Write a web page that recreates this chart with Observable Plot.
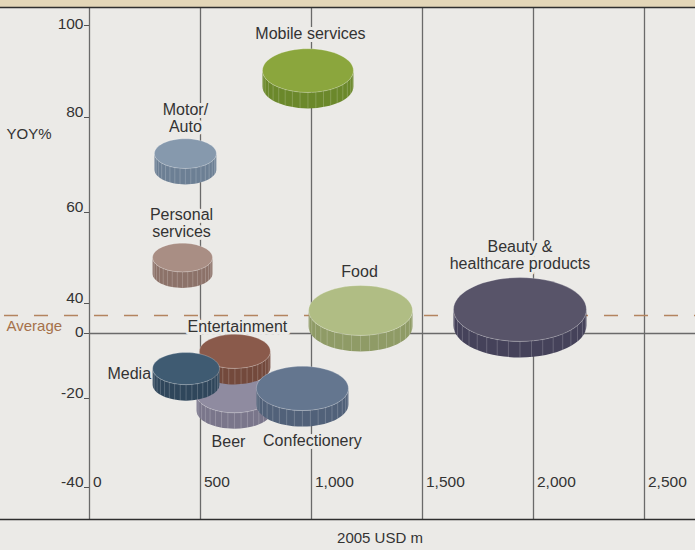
<!DOCTYPE html>
<html>
<head>
<meta charset="utf-8">
<script src="https://cdn.jsdelivr.net/npm/d3@7"></script>
<script src="https://cdn.jsdelivr.net/npm/@observablehq/plot@0.6"></script>
<style>
html, body { margin: 0; padding: 0; background: #ebeae7; }
svg text { paint-order: stroke; }
</style>
</head>
<body>
<div id="chart"></div>
<script>
// ---------- data (drawing order: back to front) ----------
const categories = ["Beer", "Entertainment", "Media", "Confectionery", "Motor/Auto",
  "Personal services", "Mobile services", "Food", "Beauty & healthcare products"];
const labelText = ["Beer", "Entertainment", "Media", "Confectionery", "Motor/\nAuto",
  "Personal\nservices", "Mobile services", "Food", "Beauty &\nhealthcare products"];
const sales2005 = [653, 655, 435, 959, 432, 419, 984, 1221, 1939];     // 2005 USD m
const growthYoY = [-18.8, -5.5, -10.8, -16.9, 72.4, 50.1, 90.2, 30.7, 32.0]; // YOY %
const bubbleSize = [14.4, 12.6, 11.2, 21.2, 9.6, 9.0, 20.7, 27.0, 44.2];
const averageYoY = [24];
const xTicks = [0, 500, 1000, 1500, 2000, 2500];
const xTickLabels = ["0", "500", "1,000", "1,500", "2,000", "2,500"];
const yTicks = [100, 80, 60, 40, 0, -20, -40];

// ---------- styles ----------
const palette = {
  "Beer": ["#8f8ba0", "#7a768b"],
  "Entertainment": ["#8a5a4b", "#73493c"],
  "Media": ["#3f5b72", "#2f465b"],
  "Confectionery": ["#64768f", "#516179"],
  "Motor/Auto": ["#8699ad", "#6c7f94"],
  "Personal services": ["#a98e84", "#8c7269"],
  "Mobile services": ["#8ba63d", "#6b882b"],
  "Food": ["#b0bd84", "#8f9b66"],
  "Beauty & healthcare products": ["#585469", "#45425a"]
};
const labelLayout = {
  "Beer": {dx: -6, dy: 47, anchor: "middle"},
  "Entertainment": {dx: 2.5, dy: -25, anchor: "middle"},
  "Media": {dx: -35, dy: 5, anchor: "end"},
  "Confectionery": {dx: 10, dy: 52, anchor: "middle"},
  "Motor/Auto": {dx: 0, dy: -35.5, anchor: "middle"},
  "Personal services": {dx: -1, dy: -34.5, anchor: "middle"},
  "Mobile services": {dx: 2.5, dy: -37, anchor: "middle"},
  "Food": {dx: -1, dy: -39, anchor: "middle"},
  "Beauty & healthcare products": {dx: 0, dy: -54.5, anchor: "middle"}
};
const BG = "#ebeae7";
const FONT = "'Liberation Sans', Arial, Helvetica, sans-serif";
const TEXT = "#333333";

// The original's y axis is broken (uneven spacing between ticks):
// map YOY% onto an even "axis distance" before Plot's linear scale.
const yBreak = d3.scaleLinear()
  .domain([-40, -20, 0, 40, 60, 80, 100])
  .range([0, 89, 154, 184, 275, 370, 462]);

// ---------- cylinder symbols ----------
const K = 0.5523, RATIO = 0.48, DEPTH = 16;
function ellipse(ctx, cx, cy, rx, ry) {
  ctx.moveTo(cx + rx, cy);
  ctx.bezierCurveTo(cx + rx, cy + K * ry, cx + K * rx, cy + ry, cx, cy + ry);
  ctx.bezierCurveTo(cx - K * rx, cy + ry, cx - rx, cy + K * ry, cx - rx, cy);
  ctx.bezierCurveTo(cx - rx, cy - K * ry, cx - K * rx, cy - ry, cx, cy - ry);
  ctx.bezierCurveTo(cx + K * rx, cy - ry, cx + rx, cy - K * ry, cx + rx, cy);
  ctx.closePath();
}
const topFace = {draw(ctx, size) {
  const rx = Math.sqrt(size / Math.PI);
  ellipse(ctx, 0, 0, rx, rx * RATIO);
}};
const sideWall = {draw(ctx, size) {
  const rx = Math.sqrt(size / Math.PI), ry = rx * RATIO;
  ctx.moveTo(-rx, 0);
  ctx.lineTo(-rx, DEPTH);
  ctx.bezierCurveTo(-rx, DEPTH + K * ry, -K * rx, DEPTH + ry, 0, DEPTH + ry);
  ctx.bezierCurveTo(K * rx, DEPTH + ry, rx, DEPTH + K * ry, rx, DEPTH);
  ctx.lineTo(rx, 0);
  ctx.bezierCurveTo(rx, K * ry, K * rx, ry, 0, ry);
  ctx.bezierCurveTo(-K * rx, ry, -rx, K * ry, -rx, 0);
  ctx.closePath();
}};
const stripes = {draw(ctx, size) {
  const rx = Math.sqrt(size / Math.PI), ry = rx * RATIO, n = 18;
  for (let i = 1; i < n; i++) {
    const t = i * Math.PI / n, x = -rx * Math.cos(t), y = ry * Math.sin(t);
    ctx.moveTo(x, y);
    ctx.lineTo(x, y + DEPTH);
  }
}};

const idx = d3.range(categories.length);
const X = i => sales2005[i], Y = i => growthYoY[i], R = i => bubbleSize[i];

const bubbleMarks = [];
for (const i of idx) {
  const [top, side] = palette[categories[i]];
  bubbleMarks.push(
    Plot.dot([i], {x: X, y: Y, r: R, symbol: sideWall, fill: side, stroke: "none"}),
    Plot.dot([i], {x: X, y: Y, r: R, symbol: stripes, fill: "none", stroke: "#ffffff", strokeOpacity: 0.28, strokeWidth: 0.7}),
    Plot.dot([i], {x: X, y: Y, r: R, symbol: topFace, fill: top, stroke: "#ffffff", strokeOpacity: 0.35, strokeWidth: 0.7})
  );
}
const labelMarks = idx.map(i => {
  const L = labelLayout[categories[i]];
  return Plot.text([i], {x: X, y: Y, text: i => labelText[i], dx: L.dx, dy: L.dy,
    textAnchor: L.anchor, lineHeight: 1.05, fill: TEXT, stroke: BG, strokeWidth: 6, fontSize: 16});
});

const chart = Plot.plot({
  width: 695,
  height: 550,
  marginLeft: 0, marginRight: 0, marginTop: 7, marginBottom: 31,
  style: {background: `linear-gradient(#e3d6b8 0px, #e3d6b8 7px, ${BG} 7px)`, fontFamily: FONT, fontSize: "15px", color: TEXT},
  x: {domain: [0, 2500], range: [89, 644], axis: null},
  y: {transform: yBreak, domain: [-32, 480], axis: null},
  r: {type: "sqrt", domain: [0, 100], range: [0, 100]},
  marks: [
    Plot.ruleX(xTicks, {x: d => d, stroke: "#6a6a6a", strokeWidth: 1.3}),
    Plot.ruleY([0], {y: d => d, x1: 0, x2: 3000, stroke: "#6a6a6a", strokeWidth: 1.3}),
    Plot.ruleY([100], {y: d => d, dy: -18, stroke: "#2e2e2e", strokeWidth: 1.5}),
    Plot.ruleY([-40], {y: d => d, dy: 32, stroke: "#2e2e2e", strokeWidth: 1.5}),
    Plot.ruleY(yTicks, {y: d => d, x1: -22.5, x2: 0, stroke: "#555", strokeWidth: 1}),
    Plot.ruleY(averageYoY, {y: d => d, stroke: "#b3845f", strokeWidth: 1.4, strokeDasharray: "14,16", strokeDashoffset: -4}),
    // y tick labels
    Plot.text(yTicks, {filter: d => d === 100 || d === 0, x: 0, y: d => d, text: d => String(d), dx: -6, dy: -1, textAnchor: "end", fill: TEXT, fontSize: 15.5}),
    Plot.text(yTicks, {filter: d => d !== 100 && d !== 0, x: 0, y: d => d, text: d => String(d), dx: -6, dy: -5, textAnchor: "end", fill: TEXT, fontSize: 15.5}),
    // x tick labels
    Plot.text(xTicks, {x: d => d, text: (d, i) => xTickLabels[i], frameAnchor: "bottom", dx: 3.5, dy: -33, textAnchor: "start", fill: TEXT, fontSize: 15.5}),
    // axis titles
    Plot.text(["YOY%"], {frameAnchor: "top-left", text: d => d, dx: 6, dy: 121, textAnchor: "start", fill: TEXT, fontSize: 15}),
    Plot.text(["2005 USD m"], {frameAnchor: "bottom", text: d => d, dx: 32, dy: 23, fill: TEXT, fontSize: 15}),
    Plot.text(averageYoY, {y: d => d, frameAnchor: "left", text: () => "Average", dx: 6, dy: 11, textAnchor: "start", fill: "#a5714a", fontSize: 15}),
    ...labelMarks,
    ...bubbleMarks
  ]
});
document.getElementById("chart").appendChild(chart);
</script>
</body>
</html>
